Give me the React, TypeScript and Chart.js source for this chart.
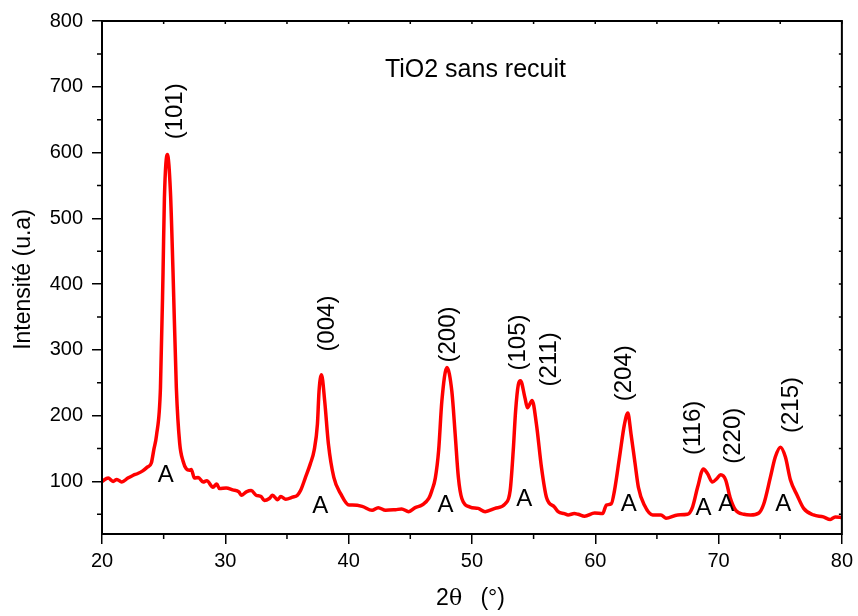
import React, { useEffect, useRef } from 'react';
import { Chart, registerables } from 'chart.js';

Chart.register(...registerables);

// 2θ positions (degrees) and measured intensity (u.a)
const twoTheta = [
  20.0, 20.5, 20.9, 21.2, 21.6, 22.1, 22.5, 22.9, 23.3, 23.7, 24.0, 24.2, 24.42, 24.74, 24.95, 25.06, 25.3, 25.55, 25.76,
  26.03, 26.3, 26.57, 26.84, 27.1, 27.24, 27.5, 27.8, 28.2, 28.5, 29.0, 29.3, 29.53, 30.07, 30.6, 31.1, 31.3, 31.7, 32.1,
  32.5, 32.9, 33.16, 33.57, 33.83, 34.24, 34.5, 34.9, 35.45, 35.85, 36.1, 36.5, 36.9, 37.2, 37.47, 37.6, 37.8, 38.06,
  38.36, 38.8, 39.36, 40.03, 40.3, 41.1, 41.9, 42.4, 43.0, 43.8, 44.3, 44.87, 45.4, 45.95, 46.5, 46.75, 47.03, 47.3,
  47.56, 47.97, 48.37, 48.64, 48.9, 49.18, 49.85, 50.5, 51.07, 51.87, 52.7, 53.1, 53.35, 53.54, 53.76, 53.94, 54.3,
  54.5, 54.88, 55.23, 55.64, 56.04, 56.7, 56.99, 57.5, 57.8, 58.3, 58.6, 59.14, 59.95, 60.6, 60.9, 61.3, 61.56, 61.97,
  62.37, 62.64, 62.9, 63.23, 63.5, 63.98, 64.66, 65.33, 65.73, 66.68, 67.48, 67.89, 68.3, 68.77, 69.1, 69.5, 69.85,
  70.17, 70.58, 70.93, 71.39, 72.06, 72.6, 73.27, 73.67, 74.2, 74.6, 75.02, 75.42, 75.83, 76.37, 76.9, 77.7, 78.5,
  79.06, 79.46, 80.0,
];
const intensity = [
  100, 105, 100, 103, 99, 105, 109, 112, 116, 122, 128, 148, 170, 242, 418, 530, 597, 540, 418,
  242, 158, 131, 119, 117, 118, 105, 106, 99, 101, 91, 96, 89, 90, 87, 84, 79, 84, 86,
  79, 77, 71, 74, 79, 72, 77, 73, 76, 79, 86, 106, 127, 147, 187, 237, 262, 222,
  157, 106, 81, 64, 64, 62, 56, 60, 56, 57, 58, 54, 60, 64, 74, 86, 105, 147,
  222, 273, 237, 172, 106, 74, 61, 59, 54, 59, 66, 86, 147, 207, 247, 253, 227,
  212, 223, 187, 121, 76, 61, 54, 51, 49, 51, 50, 47, 52, 51, 64, 66, 86, 137,
  187, 204, 172, 127, 91, 64, 49, 49, 44, 49, 50, 61, 91, 119, 112, 99, 104,
  110, 102, 76, 56, 50, 49, 52, 66, 106, 137, 152, 137, 102, 79, 59, 49, 46,
  42, 46, 45,
];

const xMajorTicks = [20, 30, 40, 50, 60, 70, 80];
const xMinorTicks = [25, 35, 45, 55, 65, 75];
const yMajorTicks = [100, 200, 300, 400, 500, 600, 700, 800];
const yMinorTicks = [50, 150, 250, 350, 450, 550, 650, 750];

// Miller-index annotations (anchored in data coordinates)
const peakLabels = ['(101)', '(004)', '(200)', '(105)', '(211)', '(204)', '(116)', '(220)', '(215)'];
const peakLabelX = [25.98, 38.33, 48.1, 53.76, 56.34, 62.4, 67.97, 71.2, 75.96];
const peakLabelY = [662.7, 339.9, 323.3, 311.2, 285.5, 264.4, 181.4, 169.4, 216.1];

// Anatase phase markers
const phaseLabel = 'A';
const phaseX = [25.17, 37.69, 47.86, 54.24, 62.72, 68.78, 70.63, 75.24];
const phaseY = [112.0, 65.3, 66.8, 75.8, 68.3, 62.2, 68.3, 68.3];

const chartTitle = 'TiO2 sans recuit';
const yTitle = 'Intensité (u.a)';

const SANS = '"Liberation Sans", Arial, Helvetica, sans-serif';
const SERIF = '"DejaVu Serif", "Liberation Serif", serif';

export default function App() {
  const ref = useRef<HTMLCanvasElement>(null);

  useEffect(() => {
    document.body.style.margin = '0';
    const canvas = ref.current;
    if (!canvas) return;

    const decor = {
      id: 'decor',
      afterDraw(chart: any) {
        const { ctx, chartArea: a, scales } = chart;
        const xs = scales.x;
        const ys = scales.y;
        ctx.save();
        ctx.strokeStyle = '#000';
        ctx.fillStyle = '#000';
        // frame
        ctx.lineWidth = 2;
        ctx.strokeRect(a.left, a.top, a.right - a.left, a.bottom - a.top);
        // minor outward ticks
        ctx.lineWidth = 1.5;
        ctx.beginPath();
        yMinorTicks.forEach((v) => {
          const p = ys.getPixelForValue(v);
          ctx.moveTo(a.left - 5, p);
          ctx.lineTo(a.left, p);
        });
        xMinorTicks.forEach((v) => {
          const p = xs.getPixelForValue(v);
          ctx.moveTo(p, a.bottom);
          ctx.lineTo(p, a.bottom + 5);
        });
        // inward ticks on right and top
        [...yMinorTicks, ...yMajorTicks].forEach((v) => {
          const p = ys.getPixelForValue(v);
          ctx.moveTo(a.right - 3, p);
          ctx.lineTo(a.right, p);
        });
        [...xMinorTicks, ...xMajorTicks].forEach((v) => {
          const p = xs.getPixelForValue(v);
          ctx.moveTo(p, a.top);
          ctx.lineTo(p, a.top + 3);
        });
        ctx.stroke();

        // title
        ctx.font = `25px ${SANS}`;
        ctx.textAlign = 'center';
        ctx.textBaseline = 'alphabetic';
        ctx.fillText(chartTitle, (a.left + a.right) / 2 + 3.5, a.top + 56);

        // y title
        ctx.save();
        ctx.font = `23px ${SANS}`;
        ctx.translate(30, (a.top + a.bottom) / 2 + 2);
        ctx.rotate(-Math.PI / 2);
        ctx.fillText(yTitle, 0, 0);
        ctx.restore();

        // x title: 2θ  (°)
        const cx = (a.left + a.right) / 2 - 1;
        ctx.textAlign = 'left';
        ctx.font = `23px ${SANS}`;
        ctx.fillText('2', cx - 35, 605);
        ctx.font = `22px ${SERIF}`;
        ctx.fillText('θ', cx - 22, 605);
        ctx.font = `23px ${SANS}`;
        ctx.fillText('(°)', cx + 9.5, 605);

        // peak labels (rotated)
        ctx.font = `24px ${SANS}`;
        ctx.textAlign = 'center';
        peakLabels.forEach((lab, i) => {
          const px = xs.getPixelForValue(peakLabelX[i]);
          const py = ys.getPixelForValue(peakLabelY[i]);
          ctx.save();
          ctx.translate(px, py);
          ctx.rotate(-Math.PI / 2);
          ctx.fillText(lab, 0, 24 * 0.26);
          ctx.restore();
        });

        // phase markers
        ctx.font = `24px ${SANS}`;
        phaseX.forEach((v, i) => {
          const px = xs.getPixelForValue(v);
          const py = ys.getPixelForValue(phaseY[i]);
          ctx.fillText(phaseLabel, px, py + 24 * 0.358);
        });
        ctx.restore();
      },
    };

    const chart = new Chart(canvas, {
      type: 'line',
      data: {
        datasets: [
          {
            data: twoTheta.map((x, i) => ({ x, y: intensity[i] })),
            borderColor: '#ff0000',
            borderWidth: 3.5,
            pointRadius: 0,
            fill: false,
            cubicInterpolationMode: 'monotone',
          },
        ],
      },
      options: {
        responsive: false,
        animation: false,
        layout: { padding: { top: 17, right: 13, left: 0, bottom: 0 } },
        plugins: { legend: { display: false }, tooltip: { enabled: false }, title: { display: false } },
        scales: {
          x: {
            type: 'linear',
            min: 20,
            max: 80,
            afterBuildTicks: (s: any) => {
              s.ticks = xMajorTicks.map((v) => ({ value: v }));
            },
            afterFit: (s: any) => {
              s.height = 82;
            },
            ticks: { color: '#000', font: { family: SANS, size: 20 }, padding: 5, maxRotation: 0 },
            grid: { drawOnChartArea: false, tickLength: 10, color: '#000', lineWidth: 1.5 },
            border: { display: false },
          },
          y: {
            type: 'linear',
            min: 20,
            max: 800,
            afterBuildTicks: (s: any) => {
              s.ticks = yMajorTicks.map((v) => ({ value: v }));
            },
            afterFit: (s: any) => {
              s.width = 102;
            },
            ticks: { color: '#000', font: { family: SANS, size: 20 }, padding: 9 },
            grid: { drawOnChartArea: false, tickLength: 10, color: '#000', lineWidth: 1.5 },
            border: { display: false },
          },
        },
      },
      plugins: [decor],
    } as any);

    return () => chart.destroy();
  }, []);

  return <canvas ref={ref} width={858} height={616} style={{ display: 'block' }} />;
}
